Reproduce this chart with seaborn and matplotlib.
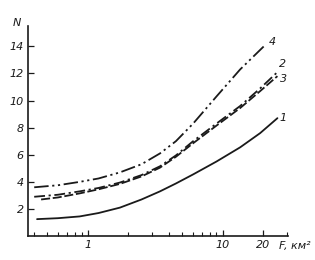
import matplotlib
matplotlib.use("Agg")
import matplotlib.pyplot as plt
import seaborn as sns
import numpy as np

sns.set_style("ticks")
plt.rcParams['font.family'] = ['DejaVu Sans']

# Curve 1 (solid)
f1 = [0.42, 0.6, 0.87, 1.2, 1.73, 2.5, 3.43, 4.5, 6.04, 9, 13.5, 19, 25.5]
n1 = [1.25, 1.32, 1.45, 1.7, 2.1, 2.7, 3.3, 3.88, 4.55, 5.5, 6.55, 7.6, 8.7]
# Curve 2 (dash-dot)
f2 = [0.4, 0.6, 0.87, 1.2, 1.73, 2.5, 3.43, 4.5, 6.04, 9, 13.5, 19, 25.5]
n2 = [2.9, 3.05, 3.3, 3.55, 3.95, 4.5, 5.15, 5.95, 7.0, 8.3, 9.6, 10.9, 12.1]
# Curve 3 (dashed)
f3 = [0.45, 0.6, 0.87, 1.2, 1.73, 2.5, 3.43, 4.5, 6.04, 9, 13.5, 19, 25.5]
n3 = [2.7, 2.85, 3.15, 3.45, 3.85, 4.4, 5.05, 5.85, 6.85, 8.15, 9.45, 10.7, 11.8]
# Curve 4 (dash-dot-dot)
f4 = [0.4, 0.6, 0.87, 1.2, 1.73, 2.5, 3.43, 4.5, 6.04, 9, 13.5, 20.7]
n4 = [3.6, 3.75, 4.0, 4.25, 4.7, 5.3, 6.1, 7.0, 8.3, 10.3, 12.3, 14.1]

curve_labels = ["1", "2", "3", "4"]
label_pos_f = [28.2, 27.7, 28.5, 23.4]
label_pos_n = [8.7, 12.7, 11.6, 14.3]

y_ticks = [2, 4, 6, 8, 10, 12, 14]
x_major = [1, 10, 20]
x_minor = [0.4, 0.5, 0.6, 0.7, 0.8, 0.9, 2, 3, 4, 5, 6, 7, 8, 9, 30]

fig = plt.figure(figsize=(3.15, 2.6), dpi=100)
ax = fig.add_axes([0.089, 0.092, 0.825, 0.808])

col = "#1a1a1a"
lw = 1.3
sns.lineplot(x=f1, y=n1, ax=ax, color=col, lw=lw, linestyle='-')
sns.lineplot(x=f2, y=n2, ax=ax, color=col, lw=lw, linestyle=(0, (6, 2, 1.2, 2)))
sns.lineplot(x=f3, y=n3, ax=ax, color=col, lw=lw, linestyle=(0, (5, 1.5)))
sns.lineplot(x=f4, y=n4, ax=ax, color=col, lw=lw, linestyle=(0, (8, 2, 1.2, 2, 1.2, 2)))

ax.set_xscale('log')
ax.set_xlim(0.36, 30.5)
ax.set_ylim(0, 15.5)

ax.set_xticks(x_major)
ax.set_xticklabels([str(v) for v in x_major], fontstyle='italic', fontsize=8)
ax.set_xticks(x_minor, minor=True)
ax.set_xticklabels([], minor=True)
ax.set_yticks(y_ticks)
ax.set_yticklabels([str(v) for v in y_ticks], fontstyle='italic', fontsize=8)

ax.tick_params(axis='both', which='major', direction='in', length=4, width=0.9, colors=col, pad=3)
ax.tick_params(axis='x', which='minor', direction='in', length=3, width=0.8, colors=col)
ax.tick_params(axis='y', which='major', pad=3)

for s in ['top', 'right']:
    ax.spines[s].set_visible(False)
for s in ['left', 'bottom']:
    ax.spines[s].set_linewidth(1.2)
    ax.spines[s].set_color(col)
ax.set_xlabel('')
ax.set_ylabel('')

for lab, xf, yn in zip(curve_labels, label_pos_f, label_pos_n):
    ax.text(xf, yn, lab, fontstyle='italic', fontsize=8, color=col, ha='center', va='center')

fig.text(17 / 315, 1 - 23 / 260, "N", fontstyle='italic', fontsize=8, color=col, ha='center', va='center')
fig.text(279 / 315, 1 - 246 / 260, "F, км²", fontstyle='italic', fontsize=8, color=col, ha='left', va='center')

fig.savefig("out.png", dpi=100)
